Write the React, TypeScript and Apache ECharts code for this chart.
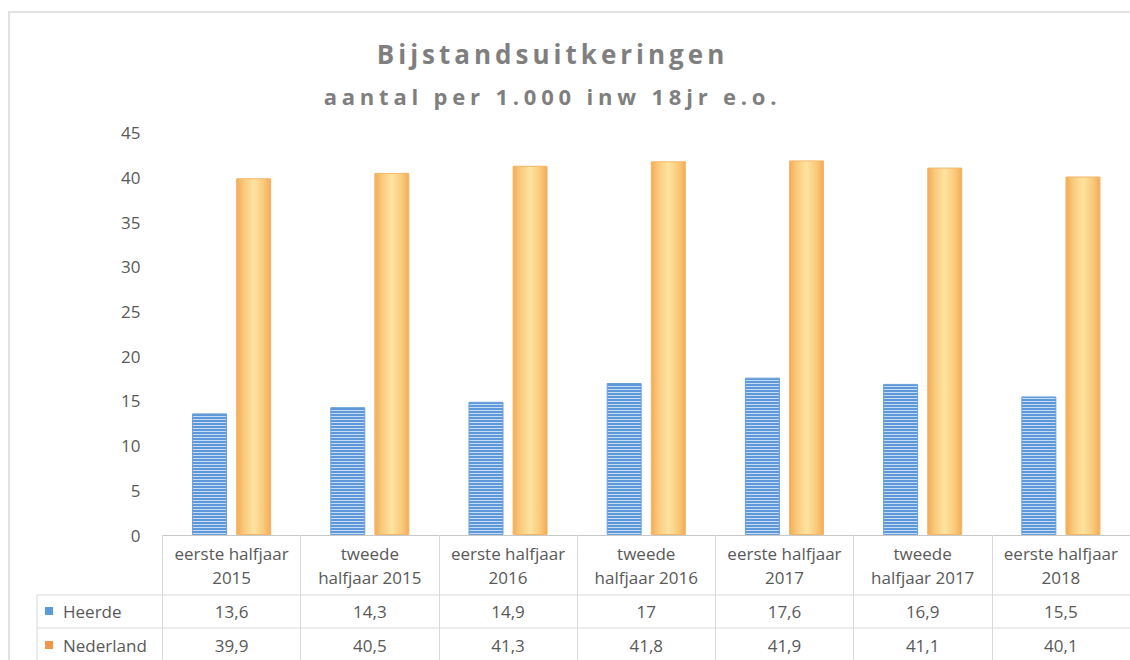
import React, { useEffect, useRef } from "react";
import * as echarts from "echarts";

// ---------- data ----------
const CATEGORIES = [
  "eerste halfjaar 2015",
  "tweede halfjaar 2015",
  "eerste halfjaar 2016",
  "tweede halfjaar 2016",
  "eerste halfjaar 2017",
  "tweede halfjaar 2017",
  "eerste halfjaar 2018",
];
const HEERDE = [13.6, 14.3, 14.9, 17, 17.6, 16.9, 15.5];
const NEDERLAND = [39.9, 40.5, 41.3, 41.8, 41.9, 41.1, 40.1];
const SERIES_NAMES = ["Heerde", "Nederland"];
const TITLE = "Bijstandsuitkeringen";
const SUBTITLE = "aantal per 1.000 inw 18jr e.o.";
const Y_MIN = 0;
const Y_MAX = 45;
const Y_STEP = 5;

// ---------- helpers ----------
const FONT = "'Open Sans', 'Noto Sans', sans-serif";
const TEXT_COLOR = "#595959";
const LINE_COLOR = "#d9d9d9";
const fmt = (v: number) => String(v).replace(".", ",");
const wrapCat = (s: string) => {
  const [a, b, c] = s.split(" ");
  return a === "eerste" ? `${a} ${b}\n${c}` : `${a}\n${b} ${c}`;
};

function makeStripeURL(): string {
  const c = document.createElement("canvas");
  c.width = 4;
  c.height = 3;
  const ctx = c.getContext("2d")!;
  ctx.fillStyle = "#5f98d8";
  ctx.fillRect(0, 0, 4, 2);
  ctx.fillStyle = "#c6dcf4";
  ctx.fillRect(0, 2, 4, 1);
  return c.toDataURL();
}

export default function App() {
  const ref = useRef<HTMLDivElement>(null);

  useEffect(() => {
    if (!ref.current) return;
    const el = ref.current;
    const chart = echarts.init(el, undefined, { renderer: "svg" });

    const stripe = makeStripeURL();
    const orange = new echarts.graphic.LinearGradient(0, 0, 1, 0, [
      { offset: 0, color: "#f3ab57" },
      { offset: 0.2, color: "#f9c979" },
      { offset: 0.5, color: "#ffe3a0" },
      { offset: 0.8, color: "#f9c979" },
      { offset: 1, color: "#f3ab57" },
    ]);

    const gridTop = 132.7;
    const gridBottom = 125;
    const gridLeft = 162.5;
    const row1 = 595;
    const row2 = 628;
    const legendColX = 37;

    chart.setOption({
      animation: false,
      backgroundColor: "#ffffff",
      grid: { left: gridLeft, right: 0, top: gridTop, bottom: gridBottom },
      legend: {
        orient: "vertical",
        left: 45,
        top: 601,
        padding: 0,
        itemWidth: 8,
        itemHeight: 8,
        itemGap: 14,
        icon: "rect",
        selectedMode: false,
        textStyle: {
          fontSize: 17,
          color: TEXT_COLOR,
          lineHeight: 20,
          fontFamily: FONT,
          padding: [0, 0, 0, 5],
        },
        data: [
          { name: SERIES_NAMES[0], itemStyle: { color: "#5b9bd5", borderWidth: 0 } },
          { name: SERIES_NAMES[1], itemStyle: { color: "#f0964a", borderWidth: 0 } },
        ],
      },
      xAxis: [
        {
          type: "category",
          data: CATEGORIES,
          position: "bottom",
          axisLine: { show: true, lineStyle: { color: "#c8c8c8", width: 1 } },
          axisTick: {
            show: true,
            interval: 0,
            length: 125,
            lineStyle: { color: LINE_COLOR, width: 1 },
          },
          axisLabel: {
            interval: 0,
            margin: 6,
            fontSize: 17,
            lineHeight: 24,
            color: TEXT_COLOR,
            fontFamily: FONT,
            formatter: (v: string) => wrapCat(v),
          },
          splitLine: { show: false },
        },
        {
          type: "category",
          data: CATEGORIES,
          position: "bottom",
          offset: 60,
          axisLine: { show: false },
          axisTick: { show: false },
          axisLabel: {
            interval: 0,
            margin: 6,
            fontSize: 17,
            lineHeight: 20,
            color: TEXT_COLOR,
            fontFamily: FONT,
            formatter: (_v: string, i: number) => fmt(HEERDE[i]),
          },
        },
        {
          type: "category",
          data: CATEGORIES,
          position: "bottom",
          offset: 93,
          axisLine: { show: false },
          axisTick: { show: false },
          axisLabel: {
            interval: 0,
            margin: 7,
            fontSize: 17,
            lineHeight: 20,
            color: TEXT_COLOR,
            fontFamily: FONT,
            formatter: (_v: string, i: number) => fmt(NEDERLAND[i]),
          },
        },
      ],
      yAxis: {
        type: "value",
        min: Y_MIN,
        max: Y_MAX,
        interval: Y_STEP,
        axisLine: { show: false },
        axisTick: { show: false },
        splitLine: { show: false },
        axisLabel: {
          margin: 22,
          fontSize: 17,
          color: TEXT_COLOR,
          fontFamily: FONT,
        },
      },
      series: [
        {
          name: SERIES_NAMES[0],
          type: "bar",
          data: HEERDE,
          barWidth: 35,
          barGap: "26%",
          itemStyle: {
            color: { image: stripe, repeat: "repeat", imageWidth: 4, imageHeight: 3 } as any,
            borderColor: "#6a9fd8",
            borderWidth: 1,
          },
        },
        {
          name: SERIES_NAMES[1],
          type: "bar",
          data: NEDERLAND,
          barWidth: 35,
          barGap: "26%",
          itemStyle: {
            color: orange,
            borderColor: "#f4b566",
            borderWidth: 1,
          },
        },
      ],
      graphic: [
        {
          type: "rect",
          silent: true,
          shape: { x: 9, y: 12, width: 1200, height: 700 },
          style: { fill: "none", stroke: "#e2e2e2", lineWidth: 2 },
        },
        {
          type: "text",
          silent: true,
          x: 552.5,
          y: 54,
          style: {
            text: TITLE,
            fill: "#7f7f7f",
            font: `bold 26px ${FONT}`,
            textAlign: "center",
            textVerticalAlign: "middle",
          },
        },
        {
          type: "text",
          silent: true,
          x: 552.5,
          y: 96,
          style: {
            text: SUBTITLE,
            fill: "#7f7f7f",
            font: `bold 22px ${FONT}`,
            textAlign: "center",
            textVerticalAlign: "middle",
          },
        },
        {
          type: "line",
          silent: true,
          shape: { x1: legendColX, y1: row1, x2: 1130, y2: row1 },
          style: { stroke: LINE_COLOR, lineWidth: 1 },
        },
        {
          type: "line",
          silent: true,
          shape: { x1: legendColX, y1: row2, x2: 1130, y2: row2 },
          style: { stroke: LINE_COLOR, lineWidth: 1 },
        },
        {
          type: "line",
          silent: true,
          shape: { x1: legendColX, y1: row1, x2: legendColX, y2: 660 },
          style: { stroke: LINE_COLOR, lineWidth: 1 },
        },
      ],
    });

    const applySpacing = () => {
      el.querySelectorAll("text").forEach((t) => {
        if (t.textContent === TITLE) t.setAttribute("letter-spacing", "4");
        else if (t.textContent === SUBTITLE) t.setAttribute("letter-spacing", "4.8");
      });
    };
    applySpacing();
    chart.on("finished", applySpacing);

    return () => {
      chart.dispose();
    };
  }, []);

  return (
    <div
      ref={ref}
      style={{ position: "fixed", left: 0, top: 0, width: 1130, height: 660, background: "#fff" }}
    />
  );
}
